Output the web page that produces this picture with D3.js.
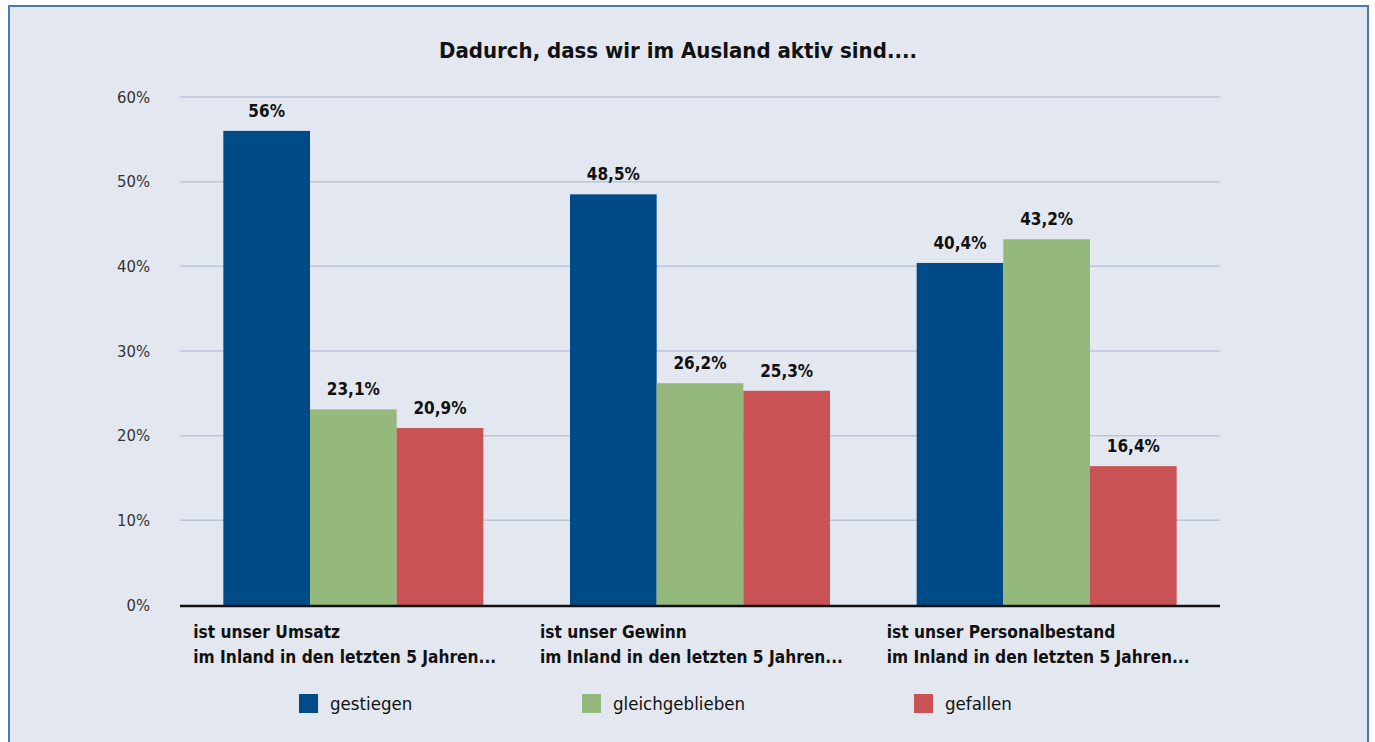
<!DOCTYPE html>
<html>
<head>
    <meta charset="utf-8">
    <title>Dadurch, dass wir im Ausland aktiv sind</title>
    <script src="https://d3js.org/d3.v7.min.js"></script>
    <style>
        body { margin: 0; background: #fff; font-family: "DejaVu Sans Condensed", "Liberation Sans", sans-serif; }
        #chart { display: block; }
    </style>
</head>
<body>
<svg id="chart"></svg>
<script>
const width = 1375, height = 742;
const margin = { top: 97, right: 155, bottom: 137, left: 180 };

const categories = [
    ["ist unser Umsatz", "im Inland in den letzten 5 Jahren..."],
    ["ist unser Gewinn", "im Inland in den letzten 5 Jahren..."],
    ["ist unser Personalbestand", "im Inland in den letzten 5 Jahren..."]
];
const seriesNames = ["gestiegen", "gleichgeblieben", "gefallen"];
const gestiegen = [56, 48.5, 40.4];
const gleichgeblieben = [23.1, 26.2, 43.2];
const gefallen = [20.9, 25.3, 16.4];
const valueLabels = [
    ["56%", "23,1%", "20,9%"],
    ["48,5%", "26,2%", "25,3%"],
    ["40,4%", "43,2%", "16,4%"]
];
const yTicks = [0, 10, 20, 30, 40, 50, 60];
const colors = ["#004a87", "#95b97c", "#c95254"];

const values = [gestiegen, gleichgeblieben, gefallen];
const rows = categories.map((c, i) => ({
    idx: i,
    vals: seriesNames.map((s, j) => ({ key: s, j: j, v: values[j][i], label: valueLabels[i][j] }))
}));

const svg = d3.select("#chart").attr("width", width).attr("height", height);

// Hintergrund + Rahmen
svg.append("rect")
    .attr("x", 9).attr("y", 6)
    .attr("width", 1359).attr("height", 760)
    .attr("fill", "#e3e7f0")
    .attr("stroke", "#4a7ab5")
    .attr("stroke-width", 2);

const x0 = d3.scaleBand()
    .domain(d3.range(categories.length))
    .range([margin.left, width - margin.right])
    .paddingInner(0.25)
    .paddingOuter(0.125);

const x1 = d3.scaleBand()
    .domain(seriesNames)
    .range([0, x0.bandwidth()]);

const y = d3.scaleLinear()
    .domain([0, 60])
    .range([height - margin.bottom, margin.top]);

const color = d3.scaleOrdinal().domain(seriesNames).range(colors);

// Gitterlinien
svg.append("g")
    .selectAll("line")
    .data(yTicks.filter(t => t > 0))
    .join("line")
    .attr("x1", margin.left)
    .attr("x2", width - margin.right)
    .attr("y1", d => y(d))
    .attr("y2", d => y(d))
    .attr("stroke", "#bcc5d9")
    .attr("stroke-width", 1.5);

// y-Achse Beschriftung
const yAxis = svg.append("g")
    .attr("transform", `translate(${margin.left - 27},0)`)
    .call(d3.axisLeft(y).tickValues(yTicks).tickSize(0).tickFormat(d => d + "%"));
yAxis.select(".domain").remove();
yAxis.selectAll("text")
    .attr("fill", "#333")
    .style("font-family", "'DejaVu Sans Condensed', sans-serif")
    .style("font-weight", "300")
    .style("font-size", "16.5px");

// Balken
const groups = svg.append("g")
    .selectAll("g")
    .data(rows)
    .join("g")
    .attr("transform", d => `translate(${x0(d.idx)},0)`);

groups.selectAll("rect")
    .data(d => d.vals)
    .join("rect")
    .attr("x", d => x1(d.key))
    .attr("y", d => y(d.v))
    .attr("width", x1.bandwidth())
    .attr("height", d => y(0) - y(d.v))
    .attr("fill", d => color(d.key));

groups.selectAll("text")
    .data(d => d.vals)
    .join("text")
    .attr("x", d => x1(d.key) + x1.bandwidth() / 2)
    .attr("y", d => y(d.v) - 14)
    .attr("text-anchor", "middle")
    .style("font-size", "17px")
    .style("font-weight", "bold")
    .attr("fill", "#111")
    .text(d => d.label);

// x-Achse
svg.append("line")
    .attr("x1", margin.left)
    .attr("x2", width - margin.right)
    .attr("y1", y(0) + 1)
    .attr("y2", y(0) + 1)
    .attr("stroke", "#111")
    .attr("stroke-width", 2.5);

// Kategorien
const catText = svg.append("g")
    .selectAll("text")
    .data(categories)
    .join("text")
    .attr("x", (d, i) => x0(i) - 30)
    .attr("y", 638)
    .style("font-size", "17.2px")
    .style("font-weight", "bold")
    .attr("fill", "#111");
catText.selectAll("tspan")
    .data(d => d)
    .join("tspan")
    .attr("x", function() { return this.parentNode.getAttribute("x"); })
    .attr("dy", (d, i) => i === 0 ? 0 : 25)
    .text(d => d);

// Titel
svg.append("text")
    .attr("x", 678)
    .attr("y", 58)
    .attr("text-anchor", "middle")
    .style("font-size", "22px")
    .style("font-weight", "bold")
    .attr("fill", "#111")
    .text("Dadurch, dass wir im Ausland aktiv sind....");

// Legende
const legendX = [299, 582, 914];
const legend = svg.append("g")
    .selectAll("g")
    .data(seriesNames)
    .join("g")
    .attr("transform", (d, i) => `translate(${legendX[i]},694)`);
legend.append("rect")
    .attr("width", 19)
    .attr("height", 19)
    .attr("fill", d => color(d));
legend.append("text")
    .attr("x", 31)
    .attr("y", 10)
    .attr("dy", "0.35em")
    .style("font-size", "18.5px")
    .attr("fill", "#111")
    .text(d => d);
</script>
</body>
</html>
